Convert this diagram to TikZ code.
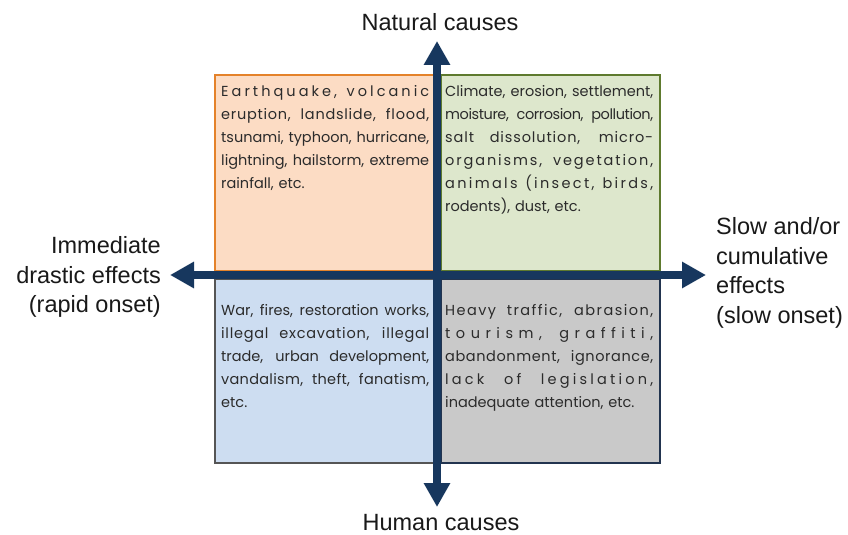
\documentclass[tikz,border=0pt]{standalone}
\usepackage{fontspec}
\setmainfont{Liberation Sans}
\newfontfamily\boxfont{Poppins}
\usetikzlibrary{arrows.meta}
\definecolor{navy}{HTML}{17375E}
\definecolor{orfill}{HTML}{FCDCC4}
\definecolor{ordraw}{HTML}{E4822A}
\definecolor{grfill}{HTML}{DDE7CC}
\definecolor{grdraw}{HTML}{5E7A2E}
\definecolor{blfill}{HTML}{CDDDF1}
\definecolor{bldraw}{HTML}{555555}
\definecolor{gyfill}{HTML}{C9C9C9}
\definecolor{gydraw}{HTML}{22344F}
\definecolor{txtgray}{HTML}{2B2B2B}
\newlength\tw
\setlength\tw{208pt}
\newcommand\stretchsp{\spaceskip=\fontdimen2\font plus 1fil minus 0.6\fontdimen2\font\relax}
\newcommand\jl[1]{\makebox[\tw][s]{\stretchsp#1}}
\newcommand\lsp[2]{\makebox[\tw][s]{\addfontfeature{LetterSpace=#1}\stretchsp#2}}
\tikzset{
  quad/.style={line width=1.6pt, inner sep=0pt},
  boxtxt/.style={anchor=north west, inner sep=0pt, text width=\tw, align=left,
    text=txtgray, font=\boxfont\fontsize{14.5}{23}\selectfont},
  lab/.style={inner sep=0pt, text=black!90, font=\fontsize{23.5}{29.5}\selectfont},
  axis/.style={navy, line width=7.5pt, {Triangle[width=25pt,length=24pt]}-{Triangle[width=25pt,length=24pt]}}
}
\begin{document}
\begin{tikzpicture}[x=1pt,y=-1pt]
\useasboundingbox[fill=white] (0,0) rectangle (848,535);
% quadrant boxes
\draw[quad, draw=ordraw, fill=orfill] (215,75) rectangle (437,271);
\draw[quad, draw=grdraw, fill=grfill] (441,75) rectangle (660,271);
\draw[quad, draw=bldraw, fill=blfill] (215,279) rectangle (437,463);
\draw[quad, draw=gydraw, fill=gyfill] (441,279) rectangle (660,463);
% texts
\node[boxtxt] (tnw) at (221,85) {%
\lsp{21}{Earthquake, volcanic}\\
\lsp{5}{eruption, landslide, flood,}\\
\jl{tsunami, typhoon, hurricane,}\\
\jl{lightning, hailstorm, extreme}\\
rainfall, etc.};
\node[boxtxt] (tne) at (445,85) {%
\jl{Climate, erosion, settlement,}\\
\lsp{-3}{moisture, corrosion, pollution,}\\
\lsp{6}{salt dissolution, micro-}\\
\lsp{13}{organisms, vegetation,}\\
\lsp{16}{animals (insect, birds,}\\
rodents), dust, etc.};
\node[boxtxt] (tsw) at (221,304) {%
\jl{War, fires, restoration works,}\\
\lsp{5}{illegal excavation, illegal}\\
\jl{trade, urban development,}\\
\lsp{2}{vandalism, theft, fanatism,}\\
etc.};
\node[boxtxt] (tse) at (445,304) {%
\lsp{10}{Heavy traffic, abrasion,}\\
\lsp{38}{tourism, graffiti,}\\
\lsp{4}{abandonment, ignorance,}\\
\lsp{22}{lack of legislation,}\\
inadequate attention, etc.};
% axes
\coordinate (top) at (437,41);
\coordinate (bot) at (437,507);
\coordinate (lft) at (170,275);
\coordinate (rgt) at (706,275);
\draw[axis] (lft) -- (rgt);
\draw[axis] (bot) -- (top);
% labels
\node[lab] (nat) at (440,22) {Natural causes};
\node[lab] (hum) at (441,523) {Human causes};
\node[lab, anchor=east, align=right] (lftlab) at (161,277) {Immediate\\drastic effects\\(rapid onset)};
\node[lab, anchor=west, align=left] (rgtlab) at (716,273) {Slow and/or\\cumulative\\effects\\(slow onset)};
\end{tikzpicture}
\end{document}
